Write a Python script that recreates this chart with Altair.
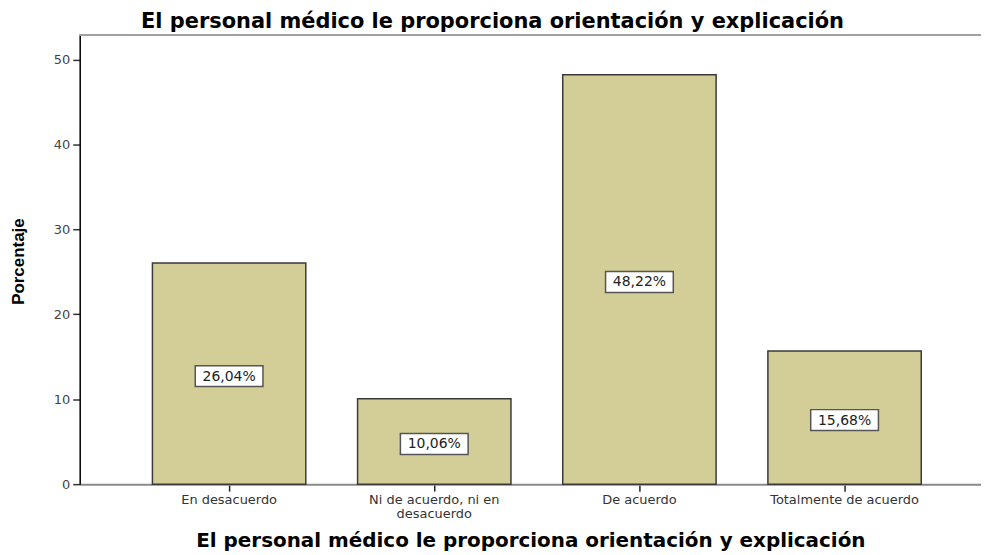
import altair as alt
import pandas as pd

categories = ["En desacuerdo", "Ni de acuerdo, ni en desacuerdo", "De acuerdo", "Totalmente de acuerdo"]
values = [26.04, 10.06, 48.22, 15.68]
labels = ["26,04%", "10,06%", "48,22%", "15,68%"]
y_ticks = [0, 10, 20, 30, 40, 50]

title_text = "El personal médico le proporciona orientación y explicación"

df = pd.DataFrame({"cat": categories, "v": values, "lab": labels})

W = 905
H = 451
FONT = "DejaVu Sans"

x_scale = alt.Scale(domain=categories, paddingInner=0.2524, paddingOuter=0.3228, align=0.549)
y_scale = alt.Scale(domain=[0, 52.9], nice=False)

label_expr = ("datum.label == 'Ni de acuerdo, ni en desacuerdo' ? "
              "['Ni de acuerdo, ni en', 'desacuerdo'] : datum.label")

x_enc = alt.X(
    "cat:N", scale=x_scale, sort=categories,
    axis=alt.Axis(
        title=title_text, titleFont=FONT, titleFontSize=20, titleFontWeight="bold",
        titleColor="#000", titleY=63, titleBaseline="alphabetic",
        labelExpr=label_expr, labelAngle=0, labelFont=FONT, labelFontSize=13,
        labelColor="#333", labelLineHeight=14, labelPadding=2,
        domainColor="#8a8a8a", domainWidth=2, tickColor="#222", tickWidth=1.5, tickSize=7,
        labelLimit=300,
    ),
)

bars = alt.Chart(df).mark_bar(color="#d3ce97", stroke="#3a3a3a", strokeWidth=1.5).encode(
    x=x_enc,
    y=alt.Y(
        "v:Q", scale=y_scale,
        axis=alt.Axis(
            values=y_ticks, grid=False, title="Porcentaje", titleFont="Liberation Sans",
            titleFontSize=17, titleFontWeight="bold", titleColor="#000",
            titleAngle=-90, titleX=-56, titleY=227, titleBaseline="alphabetic", titleAlign="center",
            labelFont=FONT, labelFontSize=13, labelColor="#444", labelPadding=3,
            domainColor="#000", domainWidth=1.5, tickColor="#333", tickWidth=1.5, tickSize=7,
        ),
    ),
)

boxes = alt.Chart(df).transform_calculate(mid="datum.v / 2").mark_bar(
    width=68, fill="white", stroke="#555", strokeWidth=1.5, yOffset=-8, y2Offset=13
).encode(
    x=alt.X("cat:N", scale=x_scale, sort=categories),
    y=alt.Y("mid:Q", scale=y_scale),
    y2="mid:Q",
)

texts = alt.Chart(df).transform_calculate(mid="datum.v / 2").mark_text(
    font=FONT, fontSize=14, color="#222", baseline="middle", align="center", dy=3
).encode(
    x=alt.X("cat:N", scale=x_scale, sort=categories),
    y=alt.Y("mid:Q", scale=y_scale),
    text="lab:N",
)

top_line = alt.Chart(df).mark_rule(color="#a0a0a0", strokeWidth=2).encode(
    x=alt.value(0), x2=alt.value(W), y=alt.value(0)
)

chart = alt.layer(bars, boxes, texts, top_line).properties(
    width=W, height=H,
    title=alt.TitleParams(
        text=title_text, font=FONT, fontSize=21, fontWeight="bold", color="#000",
        anchor="middle", dx=-38, dy=22, offset=7, baseline="alphabetic",
    ),
    autosize=alt.AutoSizeParams(type="none"),
    padding={"left": 72, "top": 26, "right": 0, "bottom": 66},
).configure_view(
    fill="#f0f0f0", stroke=None, strokeWidth=0
).configure(background="white")

chart.save("out.html", embed_options={"renderer": "svg", "actions": False})
